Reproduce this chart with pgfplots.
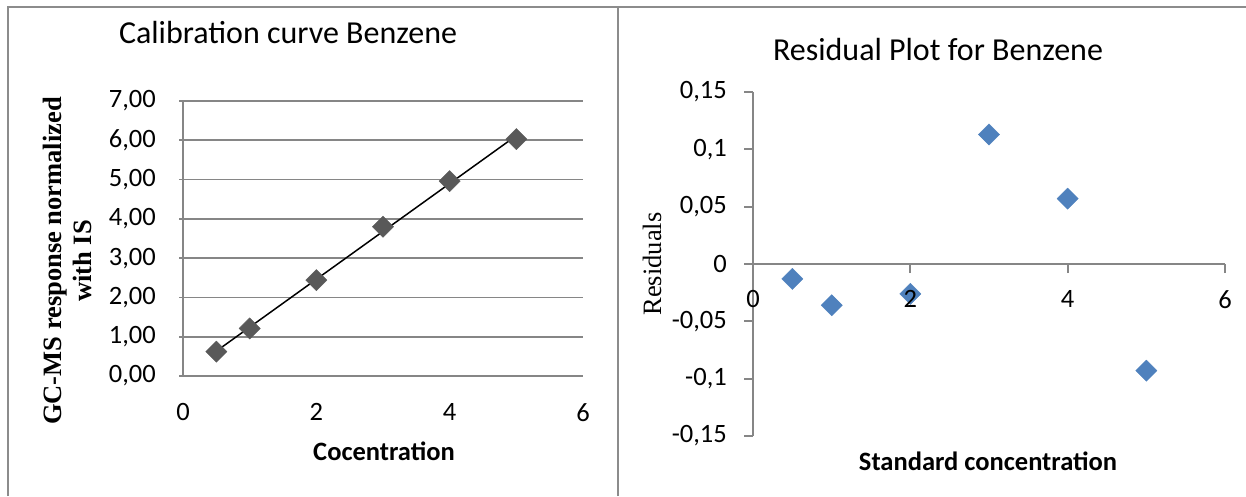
\documentclass[border=0pt]{standalone}
\usepackage{pgfplots}
\pgfplotsset{compat=1.18}
\usepackage{fontspec}
\setmainfont{Carlito}
\newfontfamily\tnr{Liberation Serif}
\definecolor{gridgray}{RGB}{134,134,134}
\definecolor{markgray}{RGB}{89,89,89}
\definecolor{xlblue}{RGB}{79,129,189}
\definecolor{bordergray}{RGB}{140,140,140}
\newcommand{\lblfont}{\fontsize{26.5}{30}\selectfont}
\newcommand{\ttlfont}{\fontsize{32}{36}\selectfont}
\pgfplotsset{resgeom/.style={
  at={(753pt,60pt)}, anchor=south west, scale only axis,
  width=472pt, height=344pt,
  xmin=0, xmax=6, ymin=-0.15, ymax=0.15, clip=false}}

\begin{document}
\begin{tikzpicture}[x=1pt,y=1pt]
\path[use as bounding box] (0,0) rectangle (1246,496);
\draw[bordergray, line width=2pt] (8,0) -- (8,489) -- (1246,489);
\draw[bordergray, line width=2pt] (618,0) -- (618,489);

% ---------- Calibration curve ----------
\begin{axis}[
  at={(183pt,120pt)}, anchor=south west, scale only axis,
  width=400pt, height=275pt,
  xmin=0, xmax=6, ymin=0, ymax=7,
  clip=false,
  axis x line*=bottom, axis y line*=left,
  axis line style={gridgray, line width=1.8pt},
  xtick={0,2,4,6}, xticklabels={0,2,4,6},
  ytick={0,1,2,3,4,5,6,7},
  yticklabels={{0,00},{1,00},{2,00},{3,00},{4,00},{5,00},{6,00},{7,00}},
  tick align=outside, major tick length=4pt,
  xtick style={draw=none},
  ytick style={gridgray, line width=1.8pt},
  ymajorgrids, grid style={gridgray, line width=1.8pt},
  /pgf/number format/assume math mode=true,
  tick label style={font=\lblfont, inner sep=0pt},
  xticklabel style={anchor=north, yshift=-23pt},
  yticklabel style={anchor=east, xshift=-23pt},
]
\addplot[only marks, mark=square*, mark size=7.5pt,
  mark options={rotate=45, fill=markgray, draw=markgray}]
  coordinates {(0.5,0.62) (1,1.21) (2,2.44) (3,3.80) (4,4.96) (5,6.03)};
\addplot[black, line width=1.5pt] coordinates {(0.5,0.633) (5,6.118)};
\end{axis}

\node[font=\ttlfont] at (288,463) {Calibration curve Benzene};
\node[font=\lblfont\bfseries] at (384,45) {Cocentration};
\node[font=\lblfont\tnr\bfseries, rotate=90, align=center] at (67,235)
  {GC-MS response normalized\\with IS};

% ---------- Residual plot: markers first ----------
\begin{axis}[resgeom, hide axis]
\addplot[only marks, mark=square*, mark size=7.5pt,
  mark options={rotate=45, fill=xlblue, draw=xlblue}]
  coordinates {(0.5,-0.013) (1,-0.036) (2,-0.026) (3,0.113) (4,0.057) (5,-0.093)};
\end{axis}
% ---------- Residual plot: axes and labels on top ----------
\begin{axis}[resgeom,
  axis x line=middle, axis y line=left,
  axis line style={gridgray, line width=1.8pt, -},
  hide obscured x ticks=false, hide obscured y ticks=false,
  xtick={0,2,4,6}, xticklabels={0,2,4,6},
  ytick={-0.15,-0.1,-0.05,0,0.05,0.1,0.15},
  yticklabels={{-0,15},{-0,1},{-0,05},{0},{0,05},{0,1},{0,15}},
  tick align=outside, major tick length=9pt,
  tick style={gridgray, line width=1.8pt},
  /pgf/number format/assume math mode=true,
  tick label style={font=\lblfont, inner sep=0pt},
  xticklabel style={anchor=north, yshift=-17pt},
  yticklabel style={anchor=east, xshift=-17pt},
]
\end{axis}

\node[font=\ttlfont] at (938,446) {Residual Plot for Benzene};
\node[font=\lblfont\bfseries] at (988,35) {Standard concentration};
\node[font=\lblfont\tnr, rotate=90] at (652,232) {Residuals};
\end{tikzpicture}
\end{document}
